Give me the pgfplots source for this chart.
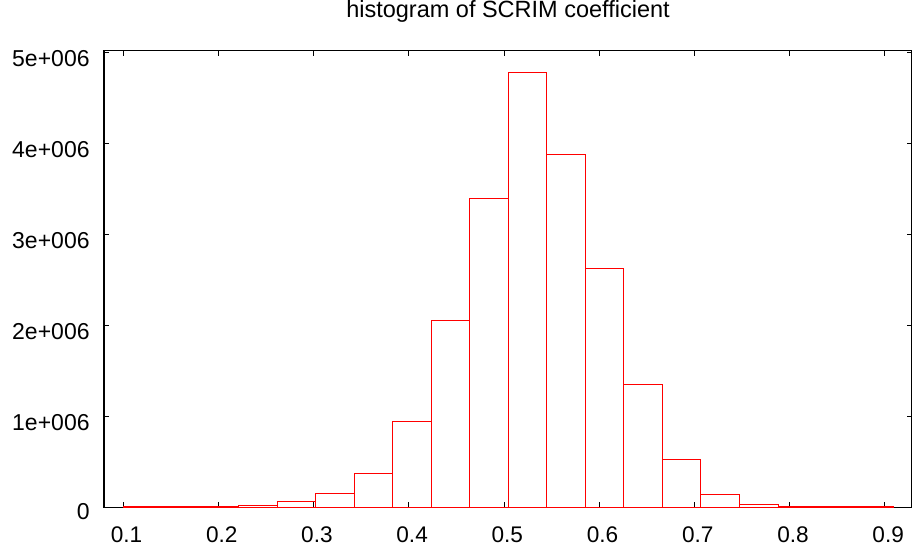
\documentclass[border=0pt]{standalone}
\usepackage{pgfplots}
\pgfplotsset{compat=1.18}
\usepackage{fontspec}
\setmainfont{Liberation Sans}
\begin{document}
\begin{tikzpicture}
\begin{axis}[
  scale only axis, width=404pt, height=228.3pt,
  xmin=0.0797, xmax=0.9284, ymin=0, ymax=5.018e6,
  axis line style={black, line width=0.6pt},
  tick style={black, line width=0.5pt},
  major tick length=2.5pt,
  tick align=inside,
  xtick={0.1,0.2,0.3,0.4,0.5,0.6,0.7,0.8,0.9},
  xticklabels={0.1,0.2,0.3,0.4,0.5,0.6,0.7,0.8,0.9},
  ytick={0,1000000,2000000,3000000,4000000,5000000},
  yticklabels={\raisebox{1.8pt}{0},1e+006,2e+006,3e+006,4e+006,5e+006},
  scaled y ticks=false, scaled x ticks=false,
  xticklabel style={anchor=base, inner sep=0pt, yshift=-17.4pt, xshift=1.6pt, font=\fontsize{11.3}{13}\selectfont},
  yticklabel style={anchor=east, inner sep=0pt, xshift=-7pt, yshift=-3.2pt, font=\fontsize{11.5}{13}\selectfont},
  title={histogram of SCRIM coefficient},
  title style={at={(0.5,1)}, anchor=base, inner sep=0pt, yshift=10.35pt, font=\fontsize{11.75}{13}\selectfont},
]
\addplot[ybar interval, draw=red, line width=0.5pt, fill=none] coordinates {
(0.1,6000) (0.14045,6000) (0.1809,10000) (0.22135,22000) (0.2618,60000)
(0.30225,154000) (0.3427,374000) (0.38315,945000) (0.4236,2055000)
(0.46405,3395000) (0.5045,4780000) (0.54495,3880000) (0.5854,2620000)
(0.62585,1344000) (0.6663,520000) (0.70675,143000) (0.7472,33000)
(0.78765,10000) (0.8281,7000) (0.86855,6000) (0.909,6000)
};
\coordinate (bl) at (rel axis cs:0,0);
\coordinate (tr) at (rel axis cs:1,1);
\end{axis}
\pgfresetboundingbox
\path ([shift={(-52pt,-20.85pt)}]bl) rectangle ([shift={(0pt,25.35pt)}]tr);
\end{tikzpicture}
\end{document}
